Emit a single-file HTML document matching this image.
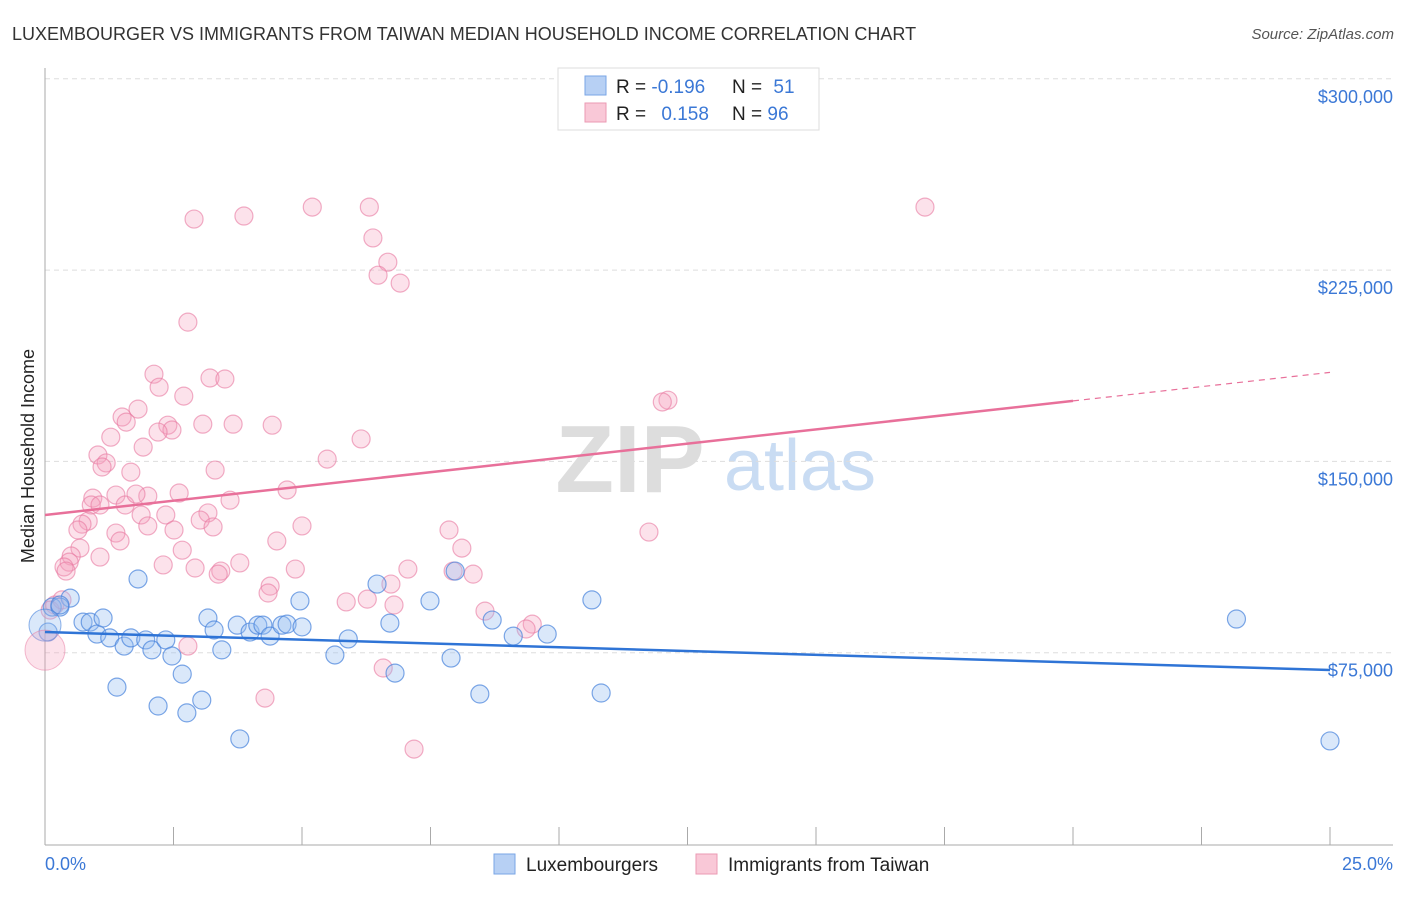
<!DOCTYPE html>
<html><head><meta charset="utf-8"><style>
body{margin:0;background:#fff;font-family:"Liberation Sans",sans-serif}
svg text{font-family:"Liberation Sans",sans-serif}
</style></head><body>
<svg id="chart" width="1406" height="892">
<text x="12" y="40" font-size="18" fill="#333">LUXEMBOURGER VS IMMIGRANTS FROM TAIWAN MEDIAN HOUSEHOLD INCOME CORRELATION CHART</text>
<text x="1394" y="39" font-size="15" fill="#555" text-anchor="end" font-style="italic">Source: ZipAtlas.com</text>
<text x="630" y="492" font-size="96" fill="#ddd" text-anchor="middle" font-family="Liberation Serif" font-weight="bold">ZIP</text>
<text x="800" y="490" font-size="72" fill="#c9dcf3" text-anchor="middle">atlas</text>
<g id="grid"></g><g id="pts"></g><g id="lines"></g>
<text transform="translate(34,456) rotate(-90)" font-size="18" fill="#222" text-anchor="middle">Median Household Income</text>
<text x="45" y="870" font-size="18" fill="#3b78d6">0.0%</text>
<text x="1393" y="870" font-size="18" fill="#3b78d6" text-anchor="end">25.0%</text>
<g>
<rect x="558" y="68" width="261" height="62" fill="#fff" stroke="#ddd"/>
<rect x="585" y="76" width="21" height="19" fill="#b7d0f4" stroke="#7aa6e6"/>
<rect x="585" y="103" width="21" height="19" fill="#f9c8d7" stroke="#eb9ab3"/>
<text x="616" y="93" font-size="19" fill="#222">R = <tspan fill="#3b78d6">-0.196</tspan></text>
<text x="732" y="93" font-size="19" fill="#222">N = <tspan fill="#3b78d6" dx="6">51</tspan></text>
<text x="616" y="120" font-size="19" fill="#222">R = <tspan fill="#3b78d6" dx="10">0.158</tspan></text>
<text x="732" y="120" font-size="19" fill="#222">N = <tspan fill="#3b78d6">96</tspan></text>
</g>
<g>
<rect x="494" y="854" width="21" height="20" fill="#b7d0f4" stroke="#7aa6e6"/>
<text x="526" y="871" font-size="19" fill="#222">Luxembourgers</text>
<rect x="696" y="854" width="21" height="20" fill="#f9c8d7" stroke="#eb9ab3"/>
<text x="728" y="871" font-size="19" fill="#222">Immigrants from Taiwan</text>
</g>
</svg>
<script>
const yTicks=[75000,150000,225000,300000];
const yTickLabels=["$75,000","$150,000","$225,000","$300,000"];
const xTicks=[0,2.5,5,7.5,10,12.5,15,17.5,20,22.5,25];
const blueX=[0.14,0.49,0.29,0.74,0.88,1.01,1.13,1.26,1.54,1.67,1.81,1.96,2.08,2.20,2.35,2.47,2.67,2.76,3.05,3.17,3.29,3.44,3.74,3.79,3.99,4.14,4.24,4.38,4.61,4.71,4.96,5.00,5.64,5.90,6.46,6.71,6.81,7.49,7.90,7.98,8.46,8.70,9.11,9.77,10.64,10.82,23.18,25.0,1.40,0.06,0.29];
const blueY=[92.9,96.4,92.9,87.0,87.0,82.3,88.6,80.8,77.6,80.8,103.9,80.0,76.1,54.1,80.0,73.7,66.6,51.4,56.4,88.6,83.9,76.1,85.8,41.2,83.1,85.8,85.8,81.5,85.8,86.2,95.3,85.1,74.1,80.4,101.9,86.6,67.0,95.3,72.9,107.0,58.8,87.8,81.5,82.3,95.7,59.2,88.2,40.4,61.5,83.1,93.7];
const pinkX=[17.12,5.20,6.31,3.87,2.90,6.38,6.67,6.48,6.91,2.78,2.12,3.21,3.50,2.22,2.70,12.12,12.01,1.81,1.50,1.58,3.07,3.66,4.42,2.39,2.47,2.20,1.28,6.15,1.91,1.03,5.49,1.19,1.11,3.31,1.67,4.71,2.61,1.38,2.00,0.93,3.60,0.90,1.56,3.17,1.87,2.35,5.00,0.84,0.72,3.02,0.64,2.00,1.38,3.27,2.51,7.86,11.75,4.51,0.68,2.67,0.51,8.11,1.07,0.47,2.30,2.92,4.87,3.42,7.06,0.37,0.41,3.37,7.94,8.33,6.73,4.38,4.34,6.27,5.86,6.79,0.19,8.56,9.48,9.36,2.78,6.58,4.28,7.18,0.10,0.33,1.77,1.07,3.79,1.46];
const pinkY=[249.7,249.7,249.7,246.2,245.0,237.6,228.1,223.0,219.9,204.6,184.2,182.7,182.3,179.1,175.6,174.0,173.3,170.5,167.4,165.4,164.6,164.6,164.2,164.2,162.3,161.5,159.5,158.8,155.6,152.5,150.9,149.4,147.8,146.6,145.8,138.8,137.6,136.8,136.4,135.6,134.8,132.9,132.9,129.8,129.0,129.0,124.7,126.6,125.4,127.0,123.1,124.7,121.9,124.3,123.1,123.1,122.3,118.8,116.0,115.2,112.9,116.0,112.5,110.5,109.4,108.2,107.8,107.0,107.8,108.6,107.0,105.8,107.0,105.8,101.9,101.1,98.4,96.0,94.9,93.7,93.7,91.3,86.2,84.3,77.6,69.0,57.2,37.2,91.7,95.7,137.2,132.9,110.2,118.8];
const bigX=[0,0];
const bigY=[85.8,76.0];
const trendBlue=[83.1,68.2];
const trendPink=[129.0,184.9];
const pinkSolidEnd=20;
const X=v=>45+v*(1285/25);
const Y=v=>844-v*1000*(191.3/75000);
const NS="http://www.w3.org/2000/svg";
function mk(parent,tag,attrs){const e=document.createElementNS(NS,tag);for(const k in attrs)e.setAttribute(k,attrs[k]);document.getElementById(parent).appendChild(e);return e;}
let e;
yTicks.forEach((t,i)=>{
 e=mk('grid','line',{x1:45,x2:1393,y1:Y(t/1000),y2:Y(t/1000),stroke:'#ddd','stroke-dasharray':'5,4'});
 
 
 e=mk('grid','text',{x:1393,y:Y(t/1000)+24,'font-size':18,fill:'#3b78d6','text-anchor':'end'});
 e.textContent=yTickLabels[i];
 
 
});
e=mk('grid','line',{x1:45,x2:45,y1:68,y2:845,stroke:'#aaa'});


e=mk('grid','line',{x1:45,x2:1393,y1:845,y2:845,stroke:'#aaa'});


xTicks.forEach(t=>{
 e=mk('grid','line',{x1:X(t),x2:X(t),y1:827,y2:845,stroke:'#aaa'});
 
 
});
pinkX.forEach((x,i)=>{
 e=mk('pts','circle',{cx:X(x),cy:Y(pinkY[i]),r:9,fill:'rgba(244,160,188,0.3)',stroke:'rgba(232,120,160,0.6)','stroke-width':1.2});
 
 
});
blueX.forEach((x,i)=>{
 e=mk('pts','circle',{cx:X(x),cy:Y(blueY[i]),r:9,fill:'rgba(150,190,240,0.35)',stroke:'rgba(70,130,220,0.7)','stroke-width':1.2});
 
 
});
e=mk('pts','circle',{cx:X(bigX[0]),cy:Y(bigY[0]),r:16,fill:'rgba(150,190,240,0.35)',stroke:'rgba(70,130,220,0.6)'});


e=mk('pts','circle',{cx:X(bigX[1]),cy:Y(bigY[1]),r:20,fill:'rgba(244,160,188,0.3)',stroke:'rgba(232,120,160,0.5)'});


e=mk('lines','line',{x1:X(0),y1:Y(trendBlue[0]),x2:X(25),y2:Y(trendBlue[1]),stroke:'#2f74d6','stroke-width':2.5});


const pinkAt=x=>trendPink[0]+(trendPink[1]-trendPink[0])*x/25;
e=mk('lines','line',{x1:X(0),y1:Y(trendPink[0]),x2:X(pinkSolidEnd),y2:Y(pinkAt(pinkSolidEnd)),stroke:'#e8709a','stroke-width':2.5});


e=mk('lines','line',{x1:X(pinkSolidEnd),y1:Y(pinkAt(pinkSolidEnd)),x2:X(25),y2:Y(trendPink[1]),stroke:'#e8709a','stroke-width':1.2,'stroke-dasharray':'6,5'});


</script>
</body></html>
